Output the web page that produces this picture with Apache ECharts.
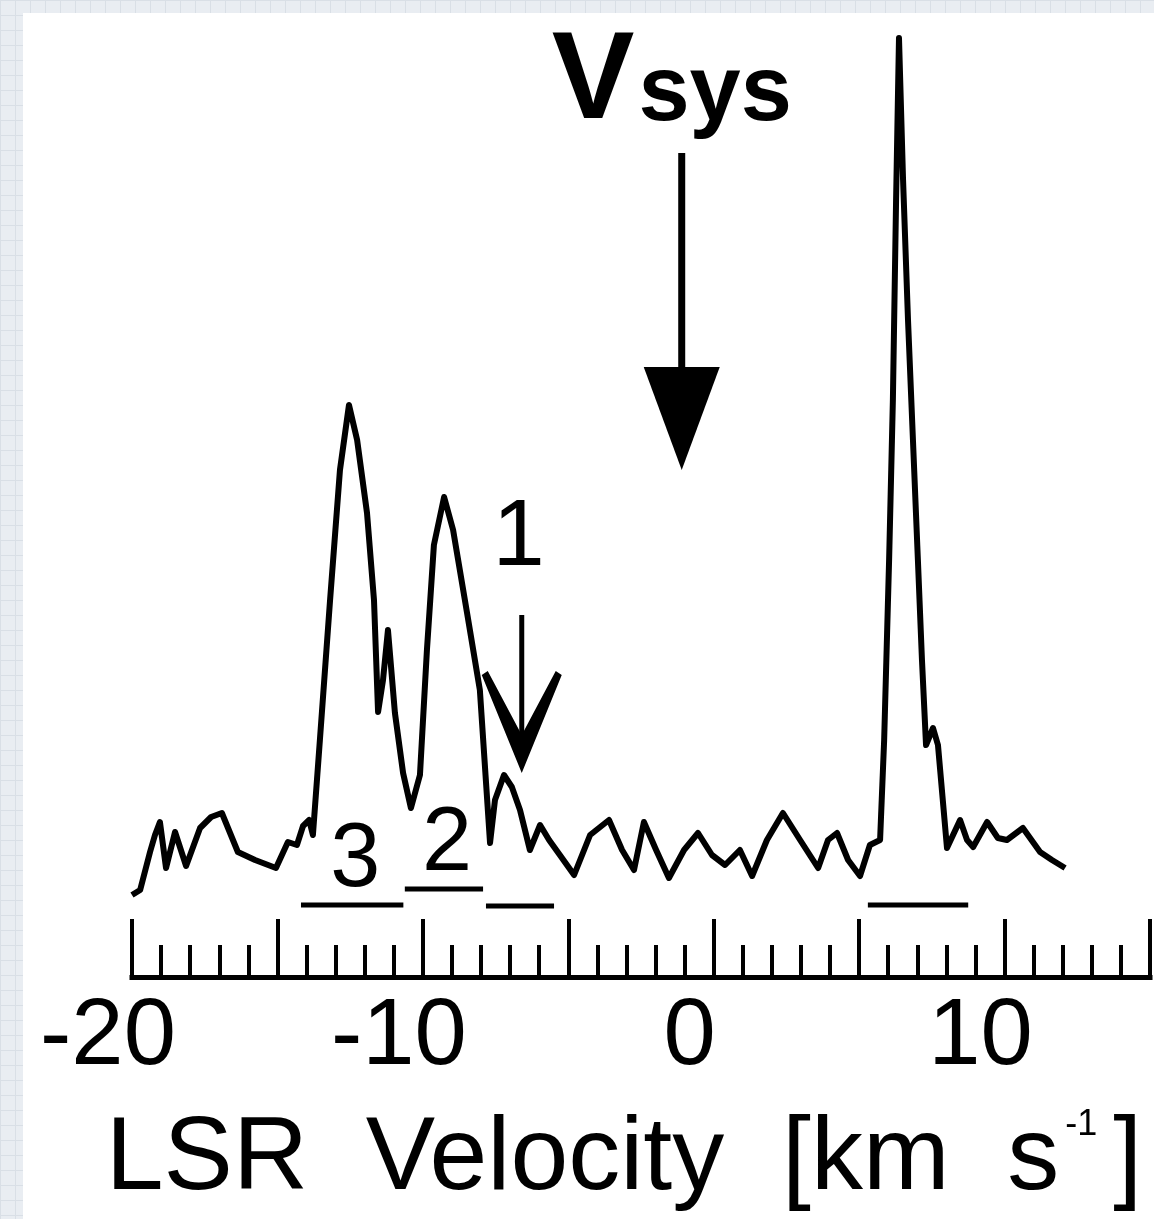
<!DOCTYPE html>
<html>
<head>
<meta charset="utf-8">
<script src="https://cdn.jsdelivr.net/npm/echarts@6/dist/echarts.min.js"></script>
<style>
html,body{margin:0;padding:0;width:1154px;height:1219px;overflow:hidden;}
body{background-color:#e9edf2;
background-image:linear-gradient(#d9dfe6 1px,transparent 1px),linear-gradient(90deg,#d9dfe6 1px,transparent 1px);
background-size:15px 15px;}
#panel{position:absolute;left:23px;top:13px;width:1131px;height:1206px;background:#fff;}
#chart{position:absolute;left:0;top:0;width:1154px;height:1219px;}
</style>
</head>
<body>
<div id="panel"></div>
<div id="chart"></div>
<script>
// ---- spectrum (LSR velocity in km/s, intensity in arbitrary units) ----
const velocity = [-20.0,-19.72,-19.38,-19.21,-19.04,-18.83,-18.52,-18.14,-17.66,-17.28,-16.91,-16.36,-15.77,-15.05,-14.64,-14.33,-14.12,-13.91,-13.78,-13.54,-13.19,-12.85,-12.54,-12.26,-11.92,-11.68,-11.54,-11.37,-11.20,-10.96,-10.68,-10.41,-10.10,-9.86,-9.62,-9.27,-8.96,-8.48,-8.04,-7.69,-7.52,-7.21,-6.94,-6.66,-6.32,-5.97,-5.66,-5.29,-4.80,-4.25,-3.60,-3.15,-2.74,-2.40,-1.98,-1.54,-1.02,-0.54,-0.06,0.39,0.90,1.32,1.83,2.38,2.97,3.59,3.93,4.24,4.62,5.03,5.37,5.72,5.86,6.03,6.16,6.27,6.37,6.51,6.68,6.85,7.02,7.16,7.30,7.54,7.71,8.02,8.47,8.71,8.92,9.40,9.77,10.08,10.63,11.22,11.63,12.08];
const intensity = [-1.8,-1.3,2.5,4.2,5.5,0.9,4.5,1.1,4.9,6.0,6.4,2.5,1.7,0.9,3.5,3.2,5.1,5.7,4.2,13.7,27.7,40.7,47.2,43.7,36.4,27.7,16.5,19.7,24.7,16.4,10.4,6.9,10.2,22.7,33.2,38.0,34.7,26.4,18.7,3.4,7.7,10.2,9.0,6.7,2.7,5.2,3.7,2.2,0.2,4.2,5.7,2.7,0.7,5.5,2.7,-0.1,2.7,4.4,2.2,1.2,2.7,0.1,3.7,6.4,3.7,0.9,3.7,4.4,1.7,0.1,3.2,3.7,13.7,31.7,47.7,67.7,83.9,69.7,55.7,43.7,31.7,21.7,13.2,14.9,13.2,2.9,5.7,3.7,3.0,5.5,3.9,3.7,4.9,2.5,1.7,0.9];

// ---- axis tick labels ----
const xTickLabels = [-20, -10, 0, 10];

// ---- velocity ranges (horizontal bars) ----
const rangeStart = [-14.19, -10.62, -7.83, 5.30];
const rangeEnd   = [-10.67, -7.93, -5.49, 8.75];
const rangeLevel = [-2.8, -1.2, -2.9, -2.8];
const rangeLabel = ['3', '2', '', ''];

// ---- arrows ----
const arrowVel   = [-1.1, -6.6];
const arrowTop   = [72.4, 26.2];
const arrowTip   = [40.7, 10.4];
const arrowLabel = ['Vsys', '1'];

const FONT = '"Liberation Sans", Arial, Helvetica, sans-serif';
const chart = echarts.init(document.getElementById('chart'), null, {renderer: 'canvas'});

function rangeRender(params, api) {
  const i = params.dataIndex;
  const p1 = api.coord([api.value(0), api.value(1)]);
  const p2 = api.coord([api.value(2), api.value(1)]);
  const kids = [{
    type: 'line',
    shape: {x1: p1[0], y1: p1[1], x2: p2[0], y2: p2[1]},
    style: {stroke: '#000', lineWidth: 5}
  }];
  const lab = rangeLabel[i];
  if (lab) {
    const fs = 90;
    const baseline = p1[1] - 13;
    kids.push({
      type: 'text', x: (p1[0] + p2[0]) / 2 + 3, y: baseline - 0.347 * fs,
      style: {text: lab, fill: '#000', font: fs + 'px ' + FONT, align: 'center', verticalAlign: 'middle'}
    });
  }
  return {type: 'group', children: kids};
}

function arrowRender(params, api) {
  const i = params.dataIndex;
  const top = api.coord([api.value(0), api.value(1)]);
  const tip = api.coord([api.value(0), api.value(2)]);
  const x = top[0];
  const kids = [];
  const lab = arrowLabel[i];
  if (i === 0) {
    const headLen = 103, halfW = 38;
    kids.push({type: 'line', shape: {x1: x, y1: top[1], x2: x, y2: tip[1] - headLen + 4},
      style: {stroke: '#000', lineWidth: 7}});
    kids.push({type: 'polygon', shape: {points: [[x - halfW, tip[1] - headLen], [x + halfW, tip[1] - headLen], [x, tip[1]]]},
      style: {fill: '#000'}});
    const baseline = top[1] - 26;
    const fsV = 124, fsS = 92;
    const left = x - 130;
    kids.push({type: 'text', x: left, y: baseline - 0.347 * fsV,
      style: {text: lab.slice(0, 1), fill: '#000', font: 'bold ' + fsV + 'px ' + FONT, align: 'left', verticalAlign: 'middle'}});
    kids.push({type: 'text', x: left + 0.667 * fsV + 4, y: baseline - 0.347 * fsS,
      style: {text: lab.slice(1), fill: '#000', font: 'bold ' + fsS + 'px ' + FONT, align: 'left', verticalAlign: 'middle'}});
  } else {
    kids.push({type: 'line', shape: {x1: x, y1: top[1], x2: x, y2: tip[1] - 30},
      style: {stroke: '#000', lineWidth: 5}});
    const t = tip[1];
    kids.push({type: 'polygon', shape: {points: [
      [x, t], [x - 40, t - 98], [x - 34, t - 102], [x, t - 38], [x + 34, t - 102], [x + 40, t - 98]
    ]}, style: {fill: '#000'}});
    const fs = 94;
    const baseline = top[1] - 43;
    kids.push({type: 'text', x: x - 3, y: baseline - 0.347 * fs,
      style: {text: lab, fill: '#000', font: fs + 'px ' + FONT, align: 'center', verticalAlign: 'middle'}});
  }
  return {type: 'group', children: kids};
}

const option = {
  animation: false,
  backgroundColor: 'transparent',
  grid: {left: 132, right: 4, top: 27, bottom: 242, containLabel: false, outerBoundsMode: 'none'},
  xAxis: {
    type: 'value', min: -20, max: 15, interval: 5,
    axisLine: {show: true, onZero: false, lineStyle: {color: '#000', width: 5, cap: 'square'}},
    axisTick: {show: true, inside: true, length: 58, lineStyle: {color: '#000', width: 4}},
    minorTick: {show: true, splitNumber: 5, length: 32, lineStyle: {color: '#000', width: 4}},
    splitLine: {show: false},
    axisLabel: {
      show: true, margin: 14, fontSize: 94, lineHeight: 94, fontFamily: FONT, color: '#000',
      padding: [0, 48, 0, 0],
      formatter: v => (xTickLabels.indexOf(v) >= 0 ? String(v) : '')
    },
    name: '{a|LSR  Velocity  [km  s}{b|-1}{a|]}',
    nameLocation: 'middle', nameGap: 126,
    nameTextStyle: {
      color: '#000', fontFamily: FONT, fontSize: 104, padding: [0, 34, 0, 0],
      rich: {
        a: {fontSize: 104, lineHeight: 114, fontFamily: FONT, color: '#000'},
        b: {fontSize: 36, lineHeight: 36, fontFamily: FONT, color: '#000', verticalAlign: 'top', padding: [4, 16, 0, 6]}
      }
    }
  },
  yAxis: {type: 'value', min: -10, max: 85, show: false},
  series: [
    {
      type: 'line',
      data: velocity.map((v, i) => [v, intensity[i]]),
      symbol: 'none',
      lineStyle: {color: '#000', width: 6, join: 'round'},
      z: 3
    },
    {
      type: 'custom',
      data: rangeStart.map((s, i) => [s, rangeLevel[i], rangeEnd[i]]),
      renderItem: rangeRender,
      z: 4
    },
    {
      type: 'custom',
      data: arrowVel.map((v, i) => [v, arrowTop[i], arrowTip[i]]),
      renderItem: arrowRender,
      z: 4
    }
  ]
};
chart.setOption(option);
</script>
</body>
</html>
